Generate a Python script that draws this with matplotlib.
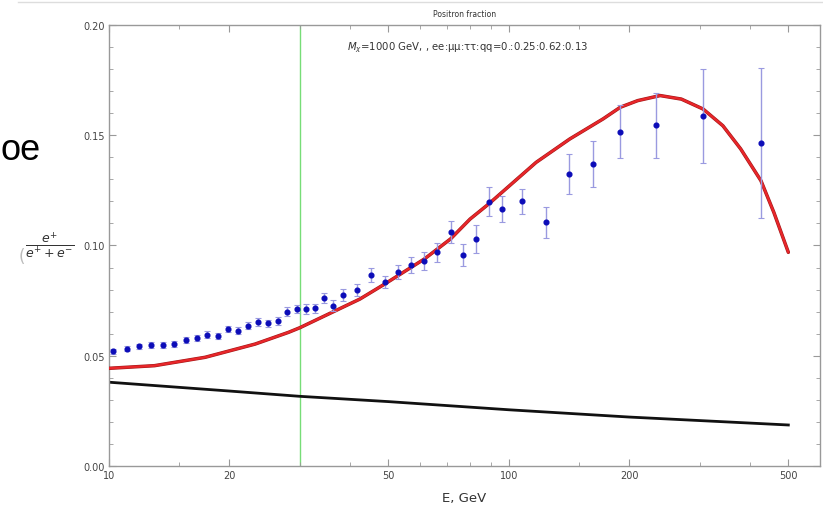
import numpy as np
import matplotlib
matplotlib.use("Agg")
import matplotlib.pyplot as plt
from matplotlib.ticker import FixedLocator, NullFormatter, MultipleLocator, FormatStrFormatter
from matplotlib.lines import Line2D

# Measured positron fraction
energy = [10.25, 11.07, 11.86, 12.74, 13.62, 14.56, 15.55, 16.57, 17.61, 18.73,
          19.81, 21.05, 22.29, 23.6, 25.0, 26.45, 27.86, 29.45, 31.1, 32.8,
          34.5, 36.4, 38.5, 41.6, 45.1, 48.9, 52.7, 56.9, 61.5, 66.3,
          71.5, 76.9, 83.0, 89.0, 95.9, 107.6, 123.5, 141.5, 162.5, 189.8,
          233.5, 306.0, 426.6]
fraction = [0.0520, 0.0531, 0.0543, 0.0549, 0.0549, 0.0553, 0.0570, 0.0580, 0.0596, 0.0591,
            0.0621, 0.0614, 0.0636, 0.0652, 0.0647, 0.0659, 0.0700, 0.0712, 0.0712, 0.0715,
            0.0762, 0.0727, 0.0776, 0.0800, 0.0866, 0.0833, 0.0881, 0.0912, 0.0931, 0.0969,
            0.1063, 0.0957, 0.1029, 0.1199, 0.1166, 0.1200, 0.1105, 0.1324, 0.1370, 0.1516,
            0.1545, 0.1586, 0.1465]
fraction_err = [0.0011, 0.0011, 0.0011, 0.0012, 0.0012, 0.0012, 0.0013, 0.0013, 0.0014, 0.0014,
                0.0015, 0.0015, 0.0016, 0.0017, 0.0017, 0.0018, 0.0019, 0.0020, 0.0021, 0.0021,
                0.0023, 0.0025, 0.0028, 0.0027, 0.0030, 0.0027, 0.0032, 0.0036, 0.0040, 0.0043,
                0.0050, 0.0049, 0.0062, 0.0066, 0.0060, 0.0058, 0.0070, 0.0090, 0.0106, 0.0121,
                0.0148, 0.0214, 0.0339]

# Model: background + dark matter annihilation
model_energy = [10, 13, 17.4, 23.2, 28.1, 30, 42.4, 48.9, 61.5, 71.5,
                80, 89, 117, 142, 172, 190, 210, 239, 270, 306,
                343, 380, 427, 460, 500]
model_fraction = [0.0443, 0.0455, 0.0493, 0.0553, 0.0606, 0.0627, 0.0757, 0.0825, 0.0939, 0.1030,
                  0.1120, 0.1188, 0.1377, 0.1483, 0.1574, 0.1627, 0.1657, 0.1680, 0.1664, 0.1619,
                  0.1543, 0.1438, 0.1294, 0.1150, 0.0969]

# Secondary background only
bg_energy = [10, 20, 30, 50, 100, 200, 500]
bg_fraction = [0.0380, 0.0340, 0.0316, 0.0292, 0.0255, 0.0222, 0.0186]

threshold_energy = 30

x_major = [10, 20, 50, 100, 200, 500]
x_minor = [15, 30, 40, 60, 70, 80, 90, 150, 300, 400]

W, H = 823, 510
fig = plt.figure(figsize=(W / 100, H / 100), dpi=100)
ax = fig.add_axes([109 / W, 1 - 467 / H, (820 - 109) / W, (467 - 26) / H])

ax.set_xscale("log")
ax.set_xlim(10, 600)
ax.set_ylim(0, 0.20)

ax.axvline(threshold_energy, color="#77dd77", lw=1.0, zorder=1)
ax.plot(bg_energy, bg_fraction, color="#111111", lw=2.0, zorder=2)
ax.plot(model_energy, model_fraction, color="#a01818", lw=2.5, zorder=3,
        solid_capstyle="round", solid_joinstyle="round")
ax.plot(model_energy, model_fraction, color="#e8262a", lw=1.7, zorder=3,
        solid_capstyle="round", solid_joinstyle="round")
ax.errorbar(energy, fraction, yerr=fraction_err, fmt="o", color="#0c0cb8", ms=3.4,
            ecolor="#9a9ae0", elinewidth=1.0, capsize=2.5, capthick=0.8, zorder=4)

spine_col = "#999999"
for s in ax.spines.values():
    s.set_color(spine_col)
    s.set_linewidth(1.0)

ax.xaxis.set_major_locator(FixedLocator(x_major))
ax.xaxis.set_minor_locator(FixedLocator(x_minor))
ax.xaxis.set_minor_formatter(NullFormatter())
ax.set_xticklabels([str(v) for v in x_major])
ax.yaxis.set_major_locator(MultipleLocator(0.05))
ax.yaxis.set_minor_locator(MultipleLocator(0.01))
ax.yaxis.set_major_formatter(FormatStrFormatter("%.2f"))

ax.tick_params(which="both", direction="in", top=True, right=True, color=spine_col,
               labelcolor="#444444", labelsize=7)
ax.tick_params(which="major", length=5, width=0.8, pad=3)
ax.tick_params(which="minor", length=3, width=0.6)

ax.set_xlabel("E, GeV", fontsize=9.5, color="#333333", labelpad=8)

ax.text(0.5, 1.015, "Positron fraction", transform=ax.transAxes, ha="center", va="bottom",
        fontsize=5.5, color="#333333")
fig.text(347 / W, 1 - 48 / H, r"$M_\chi$=1000 GeV, , ee:μμ:ττ:qq=0.:0.25:0.62:0.13",
         fontsize=7.3, color="#333333", va="center", ha="left")

# fraction label on the y axis
fig.text(50 / W, 1 - 245 / H, r"$\dfrac{e^{+}}{e^{+}+e^{-}}$", ha="center", va="center",
         fontsize=9, color="#333333")
fig.text(22 / W, 1 - 257 / H, "(", ha="center", va="center", fontsize=12,
         color="#bbbbbb")

# text fragment at the left edge and separator line at the top
fig.text(1 / W, 1 - 150 / H, "oe", ha="left", va="center", fontsize=26,
         family="Liberation Sans", color="black")
fig.add_artist(Line2D([18 / W, 1.0], [1 - 3 / H, 1 - 3 / H], color="#dddddd", lw=1.0,
                      transform=fig.transFigure))

fig.savefig("out.png", dpi=100)
